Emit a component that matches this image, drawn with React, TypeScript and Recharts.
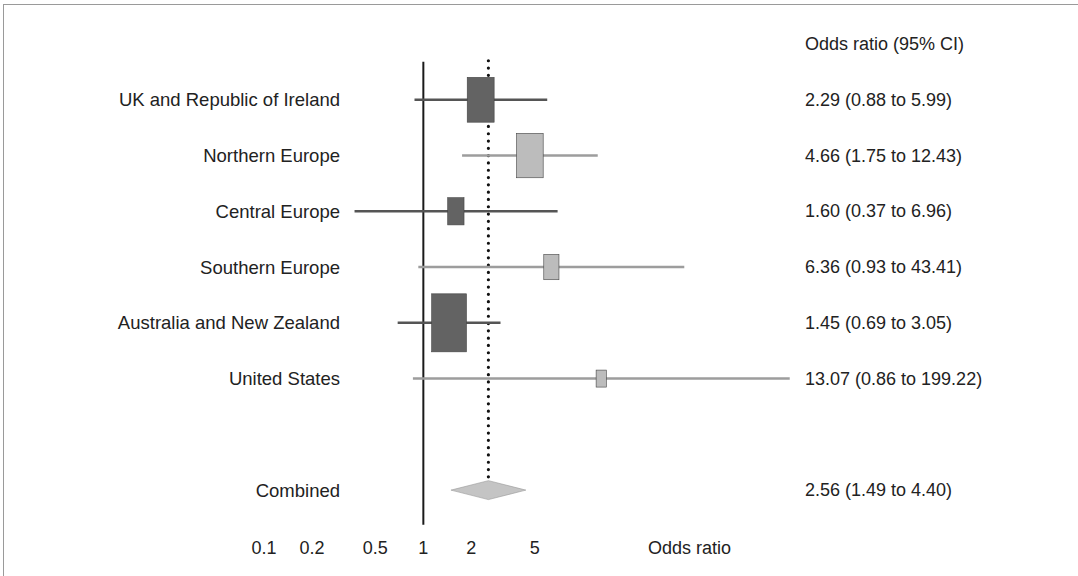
import React from 'react';
import {
  ScatterChart,
  Scatter,
  XAxis,
  YAxis,
  ReferenceLine,
  ReferenceArea,
  Label
} from 'recharts';

// forest plot: odds ratio by region, log scale
const regions = [
  'UK and Republic of Ireland',
  'Northern Europe',
  'Central Europe',
  'Southern Europe',
  'Australia and New Zealand',
  'United States'
];
const oddsRatio = [2.29, 4.66, 1.6, 6.36, 1.45, 13.07];
const ciLow = [0.88, 1.75, 0.37, 0.93, 0.69, 0.86];
const ciHigh = [5.99, 12.43, 6.96, 43.41, 3.05, 199.22];
const weights = [22.3, 21.9, 8.2, 7.1, 37.3, 3.2];

const combinedLabel = 'Combined';
const combinedOR = 2.56;
const combinedLow = 1.49;
const combinedHigh = 4.4;

const headerLabel = 'Odds ratio (95% CI)';
const axisTitle = 'Odds ratio';
const xTicks = [0.1, 0.2, 0.5, 1, 2, 5];

const FONT = '"Liberation Sans", Arial, sans-serif';
const TEXT = '#222';
const ROW_COMBINED = regions.length + 1;

const fmt = (v: number) => v.toFixed(2);

const rightLabels: Record<number, string> = { [-1]: headerLabel };
regions.forEach((_, i) => {
  rightLabels[i] = `${fmt(oddsRatio[i])} (${fmt(ciLow[i])} to ${fmt(ciHigh[i])})`;
});
rightLabels[ROW_COMBINED] = `${fmt(combinedOR)} (${fmt(combinedLow)} to ${fmt(combinedHigh)})`;

const leftLabels: Record<number, string> = {};
regions.forEach((r, i) => { leftLabels[i] = r; });
leftLabels[ROW_COMBINED] = combinedLabel;

const rowTicks = [...regions.map((_, i) => i), ROW_COMBINED];
const points = regions.map((r, i) => ({ x: oddsRatio[i], y: i, w: weights[i], i }));
// anchor rows for the right-hand text column
const rightRows = [-1, ...rowTicks].map(r => ({ x: 1, r }));

const dark = (i: number) => i % 2 === 0;
const boxColor = (i: number) => (dark(i) ? '#636363' : '#bcbcbc');
const lineColor = (i: number) => (dark(i) ? '#555' : '#9d9d9d');

const LeftTick = (props: any) => {
  const { x, y, payload } = props;
  return (
    <text x={x + 84} y={y} textAnchor="end" dominantBaseline="central" fill={TEXT} fontSize={18.5} fontFamily={FONT}>
      {leftLabels[payload.value]}
    </text>
  );
};

const RightTick = (props: any) => {
  const { x, y, payload } = props;
  return (
    <text x={x + 7} y={y} textAnchor="start" dominantBaseline="central" fill={TEXT} fontSize={18} fontFamily={FONT}>
      {rightLabels[payload.value]}
    </text>
  );
};

const BottomTick = (props: any) => {
  const { x, y, payload } = props;
  return (
    <text x={x} y={y + 22} textAnchor="middle" dominantBaseline="central" fill={TEXT} fontSize={18} fontFamily={FONT}>
      {payload.value}
    </text>
  );
};

const Box = (props: any) => {
  const { cx, cy, payload } = props;
  const h = 9.5 * Math.sqrt(payload.w);
  const w = h * 0.6;
  return <rect x={cx - w / 2} y={cy - h / 2} width={w} height={h} fill={boxColor(payload.i)} stroke="#444" strokeWidth={0.6} />;
};

const Diamond = (props: any) => {
  const { x, y, width, height } = props;
  const pts = [
    [x, y + height / 2],
    [x + width / 2, y],
    [x + width, y + height / 2],
    [x + width / 2, y + height]
  ].map(p => p.join(',')).join(' ');
  return <polygon points={pts} fill="#c4c4c4" stroke="#999" strokeWidth={0.6} />;
};

export default function App() {
  return (
    <div style={{ position: 'absolute', left: 0, top: 0, width: 1078, height: 576, overflow: 'hidden', background: '#fff' }}>
      <div style={{ position: 'absolute', left: 3, top: 4, width: 1100, height: 620, border: '1px solid #9a9a9a' }} />
      <ScatterChart
        width={1078}
        height={576}
        margin={{ top: 44, right: 228, bottom: 28, left: 204 }}
        style={{ position: 'absolute', left: 0, top: 0 }}
      >
        <XAxis
          type="number"
          dataKey="x"
          scale="log"
          domain={[0.1, 200]}
          allowDataOverflow
          ticks={xTicks}
          axisLine={false}
          tickLine={false}
          tick={<BottomTick />}
          height={30}
        >
          <Label
            content={(p: any) => {
              const vb = p.viewBox;
              return (
                <text x={vb.x + vb.width * 0.73} y={vb.y + 30} dominantBaseline="central" fill={TEXT} fontSize={18} fontFamily={FONT}>
                  {axisTitle}
                </text>
              );
            }}
          />
        </XAxis>
        <YAxis
          yAxisId="left"
          type="number"
          dataKey="y"
          domain={[-1, 7.5]}
          allowDataOverflow
          reversed
          ticks={rowTicks}
          axisLine={false}
          tickLine={false}
          tick={<LeftTick />}
          width={60}
          interval={0}
        />
        <YAxis
          yAxisId="right"
          orientation="right"
          type="number"
          dataKey="r"
          domain={[-1, 7.5]}
          allowDataOverflow
          reversed
          ticks={[-1, ...rowTicks]}
          axisLine={false}
          tickLine={false}
          tick={<RightTick />}
          width={60}
          interval={0}
        />

        <ReferenceLine
          yAxisId="left"
          segment={[{ x: 1, y: -0.68 }, { x: 1, y: 7.62 }]}
          ifOverflow="visible"
          stroke="#1a1a1a"
          strokeWidth={2}
        />
        <ReferenceLine
          yAxisId="left"
          segment={[{ x: combinedOR, y: -0.7 }, { x: combinedOR, y: ROW_COMBINED - 0.15 }]}
          stroke="#111"
          strokeWidth={3.2}
          strokeDasharray="0 7.3"
          strokeLinecap="round"
        />

        {regions.map((r, i) => (
          <ReferenceLine
            key={r}
            yAxisId="left"
            segment={[{ x: ciLow[i], y: i }, { x: ciHigh[i], y: i }]}
            stroke={lineColor(i)}
            strokeWidth={2.5}
          />
        ))}

        <ReferenceArea
          yAxisId="left"
          x1={combinedLow}
          x2={combinedHigh}
          y1={ROW_COMBINED - 0.17}
          y2={ROW_COMBINED + 0.17}
          shape={<Diamond />}
        />

        <Scatter yAxisId="right" data={rightRows} shape={() => <g />} isAnimationActive={false} />
        <Scatter yAxisId="left" data={points} shape={<Box />} isAnimationActive={false} />
      </ScatterChart>
    </div>
  );
}
